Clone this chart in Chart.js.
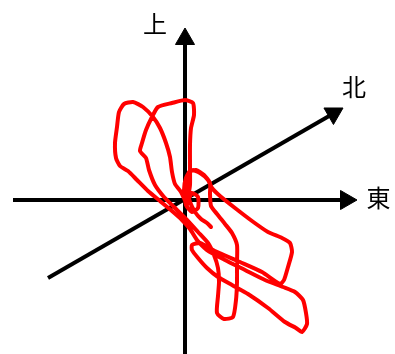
<!DOCTYPE html>
<html>
<head>
<meta charset="utf-8">
<script src="https://cdn.jsdelivr.net/npm/chart.js@4/dist/chart.umd.min.js"></script>
<style>
  html, body { margin: 0; padding: 0; background: #fff; }
  canvas { display: block; }
</style>
</head>
<body>
<canvas id="c" width="395" height="354"></canvas>
<script>
'use strict';

// particle motion trace (east / up, origin at the axes crossing)
const traceEast = [2,-4,-10,-13,-15,-19,-25,-32,-42,-52,-61,-66,-68,-70,-69,-65,-57,-48,-37,-25,-13,-3,5,12,
  22,40,60,80,98,110,118,121,122,117,111,100,83,63,47,33,22,13,7,7,15,
  30,55,77,95,99,103,107,105,97,83,67,50,35,27,23,15,6,1,-1,
  1,7,13,13,7,3,
  5,5,5,6,9,8,0,-13,-27,-33,-39,-43,-45,-39,-36,-30,-21,-11,1,13,23,29,33,34,33,32,39,48,51,52,52,52,47,40,32,26,25,25,19,11,4,
  2,5,10,16,22,26];
const traceUp = [-5,8,16,28,43,57,72,83,93,98,96,88,73,57,42,34,29,20,9,-1,-11,-20,-29,-40,
  -50,-60,-70,-80,-87,-92,-100,-113,-124,-132,-128,-122,-108,-94,-85,-77,-68,-58,-50,-45,-43,
  -51,-62,-72,-84,-80,-67,-52,-43,-38,-32,-21,-8,4,12,20,27,30,22,10,
  -5,-12,-8,3,7,0,
  15,35,55,72,85,97,100,97,93,83,70,57,49,42,30,15,3,-7,-19,-32,-43,-55,-68,-82,-96,-113,-119,-117,-100,-82,-63,-45,-33,-24,-14,-6,6,17,25,30,28,
  12,-2,-12,-19,-23,-27];

// axes: tail and tip of each arrow
const axisNames = ['上', '東', '北'];
const axisTail  = [[0, -160], [-172, 0], [-137, -78]];
const axisTip   = [[0, 172], [172, 0], [158, 92]];
const labelPos  = [[-30, 176], [193.5, 2.5], [169, 113]];

const HEAD = 11;

const trace = traceEast.map((x, i) => ({ x, y: traceUp[i] }));

const axisSets = axisTip.map((tip, i) => {
  const tail = axisTail[i];
  const dx = tip[0] - tail[0], dy = tip[1] - tail[1];
  const len = Math.hypot(dx, dy);
  const head = { x: tip[0] - dx / len * HEAD, y: tip[1] - dy / len * HEAD };
  const rot = Math.atan2(dx, dy) * 180 / Math.PI;
  return {
    data: [{ x: tail[0], y: tail[1] }, head],
    borderColor: '#000', backgroundColor: '#000', borderWidth: 4,
    pointStyle: 'triangle', pointRadius: [0, HEAD], pointRotation: rot,
    pointBorderWidth: 1, pointBorderColor: '#000', pointBackgroundColor: '#000',
    showLine: true, order: 2, clip: false,
  };
});

const labelPlugin = {
  id: 'axisLabels',
  afterDatasetsDraw(chart) {
    const { ctx, scales } = chart;
    ctx.save();
    ctx.fillStyle = '#000';
    ctx.font = '24px "Noto Sans CJK JP", sans-serif';
    ctx.textAlign = 'center';
    ctx.textBaseline = 'middle';
    axisNames.forEach((t, i) => {
      ctx.fillText(t, scales.x.getPixelForValue(labelPos[i][0]), scales.y.getPixelForValue(labelPos[i][1]));
    });
    ctx.restore();
  },
};

new Chart(document.getElementById('c'), {
  type: 'scatter',
  data: {
    datasets: [
      ...axisSets,
      { data: trace, showLine: true, borderColor: '#ff0000', borderWidth: 4, pointRadius: 0,
        tension: 0.2, borderJoinStyle: 'round', borderCapStyle: 'round', order: 1 },
    ],
  },
  options: {
    responsive: false, animation: false, events: [],
    layout: { padding: 0, autoPadding: false },
    plugins: { legend: { display: false }, tooltip: { enabled: false } },
    scales: {
      x: { type: 'linear', min: -185, max: 210, display: false },
      y: { type: 'linear', min: -154, max: 200, display: false },
    },
  },
  plugins: [labelPlugin],
});
</script>
</body>
</html>
